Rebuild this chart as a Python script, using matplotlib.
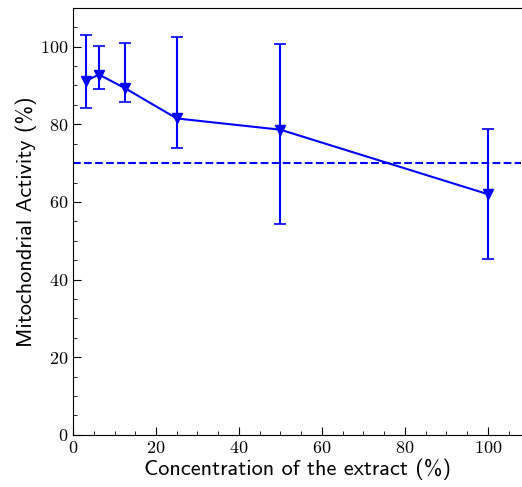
import numpy as np
import matplotlib
matplotlib.use('Agg')
import matplotlib.pyplot as plt
from matplotlib.ticker import MultipleLocator

plt.rcParams['mathtext.fontset'] = 'cm'
plt.rcParams['font.family'] = 'serif'
plt.rcParams['font.serif'] = ['cmr10', 'DejaVu Serif']
plt.rcParams['axes.formatter.use_mathtext'] = True

# concentration (%) and activity (%)
conc = [3.125, 6.25, 12.5, 25, 50, 100]
activity = [91.2, 92.8, 89.3, 81.5, 78.6, 62.0]
err_up = [103.1, 100.2, 101.0, 102.5, 100.8, 78.7]
err_low = [84.2, 89.2, 85.8, 74.0, 54.4, 45.4]
threshold = 70

yerr = np.array([np.array(activity) - np.array(err_low),
                 np.array(err_up) - np.array(activity)])

fig = plt.figure(figsize=(5.22, 4.87), dpi=100)
ax = fig.add_axes([0.14, 0.107, 0.858, 0.877])

ax.errorbar(conc, activity, yerr=yerr, color='blue', marker='v', markersize=7,
            linewidth=1.5, capsize=4.5, elinewidth=1.5, capthick=1.2)
ax.axhline(threshold, color='blue', linestyle='--', linewidth=1.5)

ax.set_xlim(0, 108)
ax.set_ylim(0, 110)
ax.xaxis.set_major_locator(MultipleLocator(20))
ax.xaxis.set_minor_locator(MultipleLocator(5))
ax.yaxis.set_major_locator(MultipleLocator(20))
ax.yaxis.set_minor_locator(MultipleLocator(5))
ax.tick_params(which='both', direction='in', labelsize=13)
ax.tick_params(which='major', length=6)
ax.tick_params(which='minor', length=3)
ax.spines['right'].set_visible(False)

ax.set_xlabel('Concentration of the extract (%)', fontsize=16, labelpad=2,
              family=['cmss10', 'DejaVu Sans'])
ax.set_ylabel('Mitochondrial Activity (%)', fontsize=16, labelpad=2,
              family=['cmss10', 'DejaVu Sans'])

fig.savefig('out.png', dpi=100)
